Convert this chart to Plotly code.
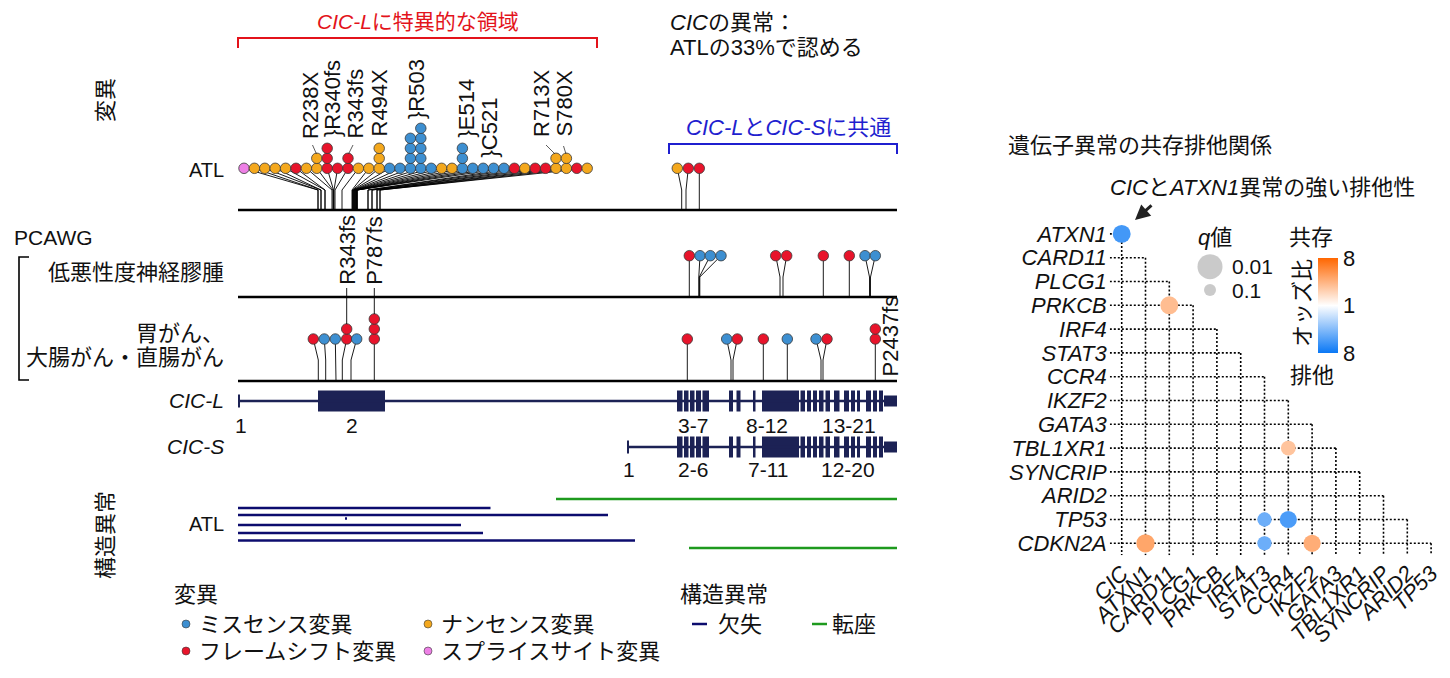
import math
import plotly.graph_objects as go

# ---------------------------------------------------------------- data
TYPE_COLORS = {"M": "#3d8fd1", "N": "#f4a81d", "F": "#e8142b", "S": "#ee80e6"}
TYPE_NAMES = {"M": "ミスセンス変異", "N": "ナンセンス変異", "F": "フレームシフト変異", "S": "スプライスサイト変異"}

# ATL, CIC-L specific region: mutation stacks per lollipop column (bottom -> top)
atl_l_stacks = ["S", "N", "N", "N", "N", "F", "N", "NN", "FFF", "F", "FF", "N", "N", "NNN",
                "M", "M", "MMMM", "MMMMM", "M", "N", "N", "MMM", "M", "M", "M", "M",
                "F", "N", "F", "F", "NN", "NN", "F", "N"]
atl_l_stem_pos = [318, 318, 321, 321, 325, 325, 332, 333, 333.5, 334, 335, 342, 352, 352.5,
                  353, 353.5, 354, 354.5, 355, 355.5, 356, 356.5, 357, 357, 357, 357,
                  368, 368, 372, 372, 377, 377, 380, 380]
# ATL, region common to CIC-L and CIC-S
atl_c_dot_pos = [677.3, 688.3, 699.3]
atl_c_stem_pos = [681.7, 686.0, 699.3]
atl_c_stacks = ["N", "F", "F"]
# PCAWG low-grade glioma
lgg_dot_pos = [689.3, 700.0, 710.3, 721.0, 775.7, 786.7, 823.3, 849.3, 865.0, 875.3]
lgg_stem_pos = [689.3, 698.8, 699.3, 699.8, 780.0, 783.0, 823.3, 849.3, 869.5, 870.5]
lgg_stacks = ["F", "M", "M", "M", "F", "F", "F", "F", "M", "M"]
# PCAWG gastric / colorectal cancer
crc_dot_pos = [313.3, 324.3, 335.3, 346.7, 356.7, 374.3, 687.3, 726.7, 737.3, 763.3, 787.3, 816.0, 827.0, 875.3]
crc_stem_pos = [318.3, 325.7, 336.0, 342.3, 351.0, 374.3, 687.3, 731.0, 733.0, 763.3, 787.3, 821.0, 823.0, 875.3]
crc_stacks = ["F", "M", "M", "FF", "M", "FFF", "F", "M", "F", "F", "M", "M", "F", "FF"]

# mutation labels
atl_labels = ["R238X", "}R340fs", "R343fs", "R494X", "}R503", "}E514", "}C521", "R713X", "S780X"]
atl_label_pos = [310, 332.5, 354.5, 378.5, 416, 466, 488.5, 541, 563.5]
pcawg_labels = ["R343fs", "P787fs", "P2437fs"]
pcawg_label_pos = [346.7, 374.3, 890]

# gene models (exon start/end)
cicl_exon_start = [238.5, 318, 677, 684, 690, 696, 702.5, 729, 736.5, 753, 762, 800.5, 807, 813, 819,
                   825.5, 834, 844, 851, 857, 866, 873, 879, 884]
cicl_exon_end = [240, 385, 682.5, 688.5, 694.5, 701, 709, 733, 740.5, 755.5, 799, 805, 811, 817, 823.5,
                 830, 839.5, 849, 855, 860, 871, 877, 883, 897]
cics_exon_start = [627.5] + cicl_exon_start[2:]
cics_exon_end = [629] + cicl_exon_end[2:]
cicl_exon_labels = ["1", "2", "3-7", "8-12", "13-21"]
cicl_exon_label_pos = [241, 352, 693, 767, 849]
cics_exon_labels = ["1", "2-6", "7-11", "12-20"]
cics_exon_label_pos = [629, 693, 768, 848]

# structural variants in ATL
deletion_start = [238, 238, 238, 238, 238, 345]
deletion_end = [490.5, 608, 461, 483, 635, 347]
translocation_start = [556, 689]
translocation_end = [897, 897]

# co-occurrence / exclusivity
row_genes = ["ATXN1", "CARD11", "PLCG1", "PRKCB", "IRF4", "STAT3", "CCR4", "IKZF2", "GATA3",
             "TBL1XR1", "SYNCRIP", "ARID2", "TP53", "CDKN2A"]
col_genes = ["CIC", "ATXN1", "CARD11", "PLCG1", "PRKCB", "IRF4", "STAT3", "CCR4", "IKZF2",
             "GATA3", "TBL1XR1", "SYNCRIP", "ARID2", "TP53"]
pair_row = ["ATXN1", "PRKCB", "TBL1XR1", "TP53", "TP53", "CDKN2A", "CDKN2A", "CDKN2A"]
pair_col = ["CIC", "CARD11", "CCR4", "STAT3", "CCR4", "ATXN1", "STAT3", "IKZF2"]
pair_log2_or = [-2.3, 1.3, 1.15, -1.8, -2.2, 1.75, -1.8, 1.6]
pair_q = [0.035, 0.035, 0.06, 0.067, 0.04, 0.033, 0.067, 0.04]
q_legend = [0.01, 0.1]

# ---------------------------------------------------------------- styling / layout helpers
FONT = "Liberation Sans, Arial, Noto Sans CJK JP, sans-serif"
INK = "#111111"
NAVY = "#1c2255"
RED = "#e3131b"
BLUE = "#1f1fcf"

W, H = 1450, 678
OFF = 8                    # page offset of the plot inside the browser window
X0, X1 = 238, 897          # track extent
DOT = 10.4                 # lollipop dot spacing
traces = []
ann = []


def text(x, y, s, size=22, color=INK, xa="center", ya="middle", angle=0, italic=False):
    ann.append(dict(x=x, y=y, xref="x", yref="y", text=s, showarrow=False, xanchor=xa, yanchor=ya,
                    textangle=angle, font=dict(family=FONT, size=size, color=color,
                                               style="italic" if italic else "normal")))


def lollipop(dot_x, stem_x, stacks, base_y, knee_y, line_y):
    lx, ly, mx, my, mc = [], [], [], [], []
    for dx, sx, st in zip(dot_x, stem_x, stacks):
        lx += [dx, sx, sx, None]
        ly += [base_y, knee_y, line_y, None]
        for k, t in enumerate(st):
            mx.append(dx)
            my.append(base_y - k * 10.0)
            mc.append(TYPE_COLORS[t])
    traces.append(go.Scatter(x=lx, y=ly, mode="lines", line=dict(color="black", width=0.9),
                             hoverinfo="skip"))
    traces.append(go.Scatter(x=mx, y=my, mode="markers",
                             marker=dict(size=10.5, color=mc, line=dict(color="#3a3a3a", width=0.8)),
                             hoverinfo="skip"))


def polyline(xs, ys, color, width, dash=None):
    traces.append(go.Scatter(x=xs, y=ys, mode="lines",
                             line=dict(color=color, width=width, dash=dash), hoverinfo="skip"))


# ---------------------------------------------------------------- left panel: lollipops
TRACK_Y = {"ATL": 210, "LGG": 297, "CRC": 381}
polyline([X0, X1, None, X0, X1, None, X0, X1],
         [TRACK_Y["ATL"], TRACK_Y["ATL"], None, TRACK_Y["LGG"], TRACK_Y["LGG"], None,
          TRACK_Y["CRC"], TRACK_Y["CRC"]], "black", 2.5)

atl_l_dot_pos = [244 + i * DOT for i in range(len(atl_l_stacks))]
lollipop(atl_l_dot_pos, atl_l_stem_pos, atl_l_stacks, 168.3, 190, TRACK_Y["ATL"])
lollipop(atl_c_dot_pos, atl_c_stem_pos, atl_c_stacks, 168.3, 190, TRACK_Y["ATL"])
lollipop(lgg_dot_pos, lgg_stem_pos, lgg_stacks, 255.7, 277, TRACK_Y["LGG"])
lollipop(crc_dot_pos, crc_stem_pos, crc_stacks, 339, 360, TRACK_Y["CRC"])

# mutation labels
atl_label_bottom = [141, 139, 141, 139, 121, 140, 160, 139, 139]
for s, x, b in zip(atl_labels, atl_label_pos, atl_label_bottom):
    text(x, b, s, size=22, angle=-90, ya="bottom")
lead_x = [312.5, 316.5, None, 353, 348.5, None, 546, 555, None, 563.5, 566]
lead_y = [145, 154, None, 145, 154, None, 145, 154, None, 146, 154]
polyline(lead_x, lead_y, "#333333", 0.8)
pcawg_label_bottom = [287, 287, 379]
for s, x, b in zip(pcawg_labels, pcawg_label_pos, pcawg_label_bottom):
    text(x, b, s, size=22, angle=-90, ya="bottom")
polyline([346.7, 346.7, None, 374.3, 374.3], [288, 324, None, 288, 314], "black", 0.9)

# region brackets
polyline([X0, X0, 597, 597], [48, 38, 38, 48], RED, 2)
text(418, 21, "<i>CIC-L</i>に特異的な領域", size=21, color=RED)
polyline([669, 669, X1, X1], [154, 144, 144, 154], BLUE, 2)
text(788.5, 127, "<i>CIC-L</i>と<i>CIC-S</i>に共通", color=BLUE)
text(668, 22, "<i>CIC</i>の異常：", xa="left")
text(668, 47, "ATLの33%で認める", xa="left")

# track labels
text(105, 100, "変異", angle=-90)
text(226, 170, "ATL", size=20, xa="right")
text(12, 237, "PCAWG", size=21, xa="left")
polyline([29, 19, 19, 29], [257, 257, 380, 380], "black", 1.6)
text(226, 272, "低悪性度神経膠腫", xa="right")
text(226, 333, "胃がん、", xa="right")
text(226, 357, "大腸がん・直腸がん", xa="right")

# ---------------------------------------------------------------- gene models
for starts, ends, yc, lo in [(cicl_exon_start, cicl_exon_end, 401, 239),
                             (cics_exon_start, cics_exon_end, 447, 628)]:
    polyline([lo, X1], [yc, yc], NAVY, 2.5)
    heights = [13] + [21] * (len(starts) - 2) + [11]
    traces.append(go.Bar(x=[e - s for s, e in zip(starts, ends)], base=starts, y=[yc] * len(starts),
                         width=heights, orientation="h", marker=dict(color=NAVY, line=dict(width=0)),
                         hoverinfo="skip"))
text(226, 400, "CIC-L", size=21, xa="right", italic=True)
text(226, 446, "CIC-S", size=21, xa="right", italic=True)
for s, x in zip(cicl_exon_labels, cicl_exon_label_pos):
    text(x, 425, s, size=21)
for s, x in zip(cics_exon_labels, cics_exon_label_pos):
    text(x, 469, s, size=21)

# ---------------------------------------------------------------- structural variants
del_row = [508, 515, 525, 533, 540.5, 518.5]
tr_row = [499, 548]
dx, dy = [], []
for s, e, r in zip(deletion_start, deletion_end, del_row):
    dx += [s, e, None]
    dy += [r, r, None]
polyline(dx, dy, "#0c0c6e", 2.5)
tx, ty = [], []
for s, e, r in zip(translocation_start, translocation_end, tr_row):
    tx += [s, e, None]
    ty += [r, r, None]
polyline(tx, ty, "#1e9a1e", 2.5)
text(105, 535, "構造異常", angle=-90)
text(226, 524, "ATL", size=20, xa="right")

# ---------------------------------------------------------------- legend (left)
text(172, 594, "変異", xa="left")
leg_types = ["M", "N", "F", "S"]
leg_x = [186, 428, 186, 428]
leg_y = [624, 624, 651, 651]
traces.append(go.Scatter(x=leg_x, y=leg_y, mode="markers",
                         marker=dict(size=8, color=[TYPE_COLORS[t] for t in leg_types],
                                     line=dict(color="#3a3a3a", width=0.6)), hoverinfo="skip"))
for t, x, y in zip(leg_types, leg_x, leg_y):
    text(x + 11, y, TYPE_NAMES[t], xa="left")
text(678, 594, "構造異常", xa="left")
polyline([692, 707], [624, 624], "#0c0c6e", 2.5)
text(716, 624, "欠失", xa="left")
polyline([812, 827], [624, 624], "#1e9a1e", 2.5)
text(830, 624, "転座", xa="left")

# ---------------------------------------------------------------- right panel: co-occurrence
n = len(row_genes)
gx, gy = [], []
for r in range(n):
    gx += [-0.5, r, None]
    gy += [r, r, None]
for c in range(n):
    gx += [c, c, None]
    gy += [c, n - 0.5, None]
traces.append(go.Scatter(x=gx, y=gy, xaxis="x2", yaxis="y2", mode="lines",
                         line=dict(color="black", width=1.6, dash="2px,2px"), hoverinfo="skip"))


def q_size(q):
    return 12 + 13 * math.log10(0.1 / q)


traces.append(go.Scatter(
    x=[col_genes.index(c) for c in pair_col], y=[row_genes.index(r) for r in pair_row],
    xaxis="x2", yaxis="y2", mode="markers",
    marker=dict(size=[q_size(q) for q in pair_q], color=pair_log2_or, cmin=-3, cmax=3, opacity=1,
                colorscale=[[0, "#0a78f5"], [0.5, "#ffffff"], [1, "#ff6600"]], line=dict(width=0),
                colorbar=dict(x=(1318 - OFF) / W, xanchor="left", y=1 - (305.5 - OFF) / H,
                              yanchor="middle", lenmode="pixels", len=95, thicknessmode="pixels",
                              thickness=20, outlinewidth=0, tickvals=[-3, 0, 3],
                              ticktext=["8", "1", "8"], ticks="", xpad=0, ypad=0,
                              tickfont=dict(family=FONT, size=22, color=INK))),
    hoverinfo="skip"))

# q-value legend
traces.append(go.Scatter(x=[1210, 1210], y=[266.7, 290], mode="markers",
                         marker=dict(size=[q_size(q) for q in q_legend], color="#b3b3b3",
                                     line=dict(width=0)), hoverinfo="skip"))
text(1215, 237, "<i>q</i>値")
for q, y in zip(q_legend, [266.7, 290]):
    text(1230, y, str(q), size=21, xa="left")
text(1311, 237, "共存")
text(1312, 375, "排他")
text(1302, 303, "オッズ比", angle=-90)

text(1006, 145, "遺伝子異常の共存排他関係", xa="left")
text(1108, 187, "<i>CIC</i>と<i>ATXN1</i>異常の強い排他性", xa="left")
ann.append(dict(x=1135, y=220, ax=1153, ay=204, xref="x", yref="y", axref="x", ayref="y",
                text="", showarrow=True, arrowhead=2, arrowsize=1, arrowwidth=3,
                arrowcolor="#222222"))

# ---------------------------------------------------------------- figure
fig = go.Figure(traces)
col_step = 23.8
x_lo, x_hi = 1121.7 - col_step / 2, 1121.7 + col_step * (n - 0.5)
y_lo, y_hi = 233.9 - col_step / 2, 233.9 + col_step * (n - 0.5)
axis_font = dict(family=FONT, size=22, color=INK, style="italic")
fig.update_layout(
    width=W, height=H, autosize=False,
    margin=dict(l=0, r=0, t=0, b=0, pad=0, autoexpand=False),
    paper_bgcolor="white", plot_bgcolor="rgba(0,0,0,0)", showlegend=False, barmode="overlay",
    xaxis=dict(range=[OFF, W + OFF], domain=[0, 1], visible=False, automargin=False),
    yaxis=dict(range=[H + OFF, OFF], domain=[0, 1], visible=False, automargin=False),
    xaxis2=dict(range=[-0.5, n - 0.5], domain=[(x_lo - OFF) / W, (x_hi - OFF) / W], anchor="y2",
                tickvals=list(range(n)), ticktext=col_genes, tickangle=-45, ticks="",
                showgrid=False, zeroline=False, showline=False, tickfont=axis_font, automargin=False),
    yaxis2=dict(range=[n - 0.5, -0.5], domain=[1 - (y_hi - OFF) / H, 1 - (y_lo - OFF) / H],
                anchor="x2", tickvals=list(range(n)), ticktext=row_genes, ticks="",
                ticklabelstandoff=2,
                showgrid=False, zeroline=False, showline=False, tickfont=axis_font, automargin=False),
    annotations=ann,
)
fig.write_html("out.html")
